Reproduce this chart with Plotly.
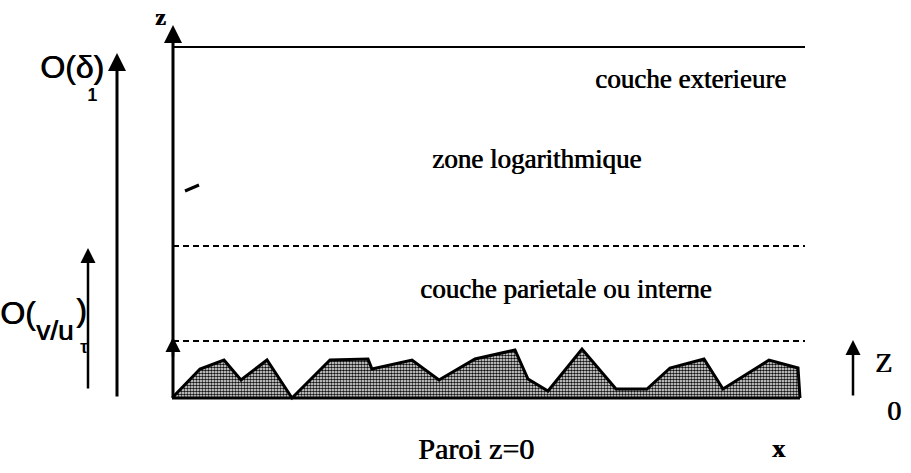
import plotly.graph_objects as go

# Rough wall profile (x along the wall, z height above the wall)
wall_x = [172, 200, 224, 241, 267, 292, 330, 368, 372, 412, 439, 475, 515,
          528, 548, 582, 616, 647, 670, 704, 723, 769, 798, 800]
wall_z = [0, 29, 38, 18, 38, 0, 38, 39, 29, 38, 18, 39, 48,
          19, 7, 49, 9, 9, 30, 39, 9, 38, 30, 0]

# Layer boundaries (height above wall)
outer_top_z = 351
log_bottom_z = 152
inner_bottom_z = 57
x_start, x_end = 173, 805

layer_labels = ["couche exterieure", "zone logarithmique", "couche parietale ou interne"]

fig = go.Figure()

fig.add_trace(go.Scatter(
    x=wall_x, y=wall_z, mode="lines", fill="toself",
    line=dict(color="black", width=3),
    fillcolor="rgba(0,0,0,0)",
    fillpattern=dict(shape=".", size=3, solidity=0.6, fgcolor="#111", bgcolor="white", fillmode="replace"),
    hoverinfo="skip", showlegend=False))

# baseline (wall)
fig.add_trace(go.Scatter(x=[wall_x[0], wall_x[-1]], y=[0, 0], mode="lines",
                         line=dict(color="black", width=3), hoverinfo="skip", showlegend=False))

# outer top solid line
fig.add_trace(go.Scatter(x=[x_start, x_end], y=[outer_top_z, outer_top_z], mode="lines",
                         line=dict(color="black", width=2), hoverinfo="skip", showlegend=False))
# dashed boundaries
for zb in [log_bottom_z, inner_bottom_z]:
    fig.add_trace(go.Scatter(x=[x_start, x_end], y=[zb, zb], mode="lines",
                             line=dict(color="black", width=2, dash="6px,4px"),
                             hoverinfo="skip", showlegend=False))

def arrow(x, z0, z1, w=2.5):
    fig.add_annotation(x=x, y=z1, ax=x, ay=z0, xref="x", yref="y", axref="x", ayref="y",
                       text="", showarrow=True, arrowhead=2, arrowsize=1.2, arrowwidth=w,
                       arrowcolor="black")

arrow(173, 0, 373, 3)          # z axis
arrow(173, 40, 61, 2.5)        # small arrow at inner boundary
arrow(117, 0, 345, 3)          # O(delta1)
arrow(88, 8, 150, 2.5)         # O(nu/u_tau)
arrow(853, 1, 58, 2.5)         # Z0

serif = "Liberation Serif"
sans = "Liberation Sans Narrow, Liberation Sans"

def txt(x, z, s, size, family=serif, bold=False, heavy=True):
    font = dict(family=family, size=size, color="black")
    if heavy:
        font["shadow"] = "0.7px 0px 0px black"
    fig.add_annotation(x=x, y=z, xref="x", yref="y", text=f"<b>{s}</b>" if bold else s,
                       showarrow=False, font=font,
                       xanchor="center", yanchor="middle")

txt(690, 319, layer_labels[0], 27)
txt(536, 239, layer_labels[1], 27)
txt(566, 109, layer_labels[2], 27)
txt(476, -50, "Paroi z=0", 30)
txt(778, -50, "x", 26, bold=True)
txt(160, 381, "z", 24, bold=True)

txt(72, 331, "O(δ)", 32, sans)
txt(92, 303, "1", 18, sans)
txt(18, 85, "O(", 32, sans)
txt(54, 68, "v/u", 28, sans)
txt(81, 88, ")", 32, sans)
txt(83, 51, "τ", 18, sans)

txt(883, 36, "Z", 28)
txt(894, -12, "0", 28)

# small scan mark
fig.add_trace(go.Scatter(x=[185, 199], y=[207, 213], mode="lines",
                         line=dict(color="black", width=3), hoverinfo="skip", showlegend=False))

fig.update_layout(
    width=911, height=473, margin=dict(l=0, r=0, t=0, b=0),
    paper_bgcolor="white", plot_bgcolor="white",
    xaxis=dict(range=[0, 911], visible=False, fixedrange=True),
    yaxis=dict(range=[-75, 398], visible=False, fixedrange=True),
    showlegend=False)

fig.write_html("out.html", config={"displayModeBar": False},
               post_script="document.body.style.margin='0';document.body.style.overflow='hidden';")
